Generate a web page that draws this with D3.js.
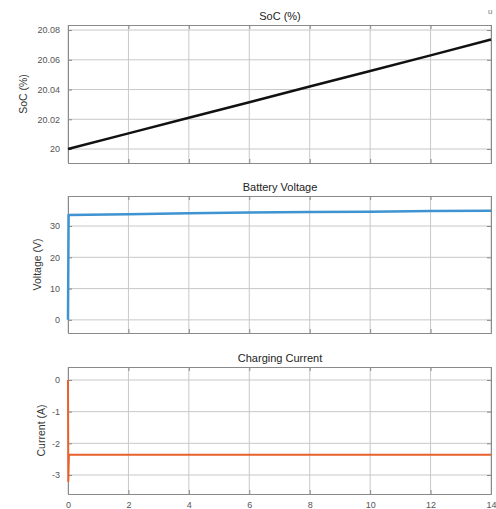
<!DOCTYPE html>
<html>
<head>
<meta charset="utf-8">
<script src="https://cdn.jsdelivr.net/npm/d3@7"></script>
<style>
  body { margin: 0; background: #fff; }
  svg { display: block; font-family: "Liberation Sans", Arial, sans-serif; }
</style>
</head>
<body>
<div id="vis"></div>
<script>
const FRAME_WIDTH = 496;
const FRAME_HEIGHT = 509;

// time axis (hours)
const xTicks = [0, 2, 4, 6, 8, 10, 12, 14];

// SoC (%)
const socTime = [0, 2, 4, 6, 8, 10, 12, 14];
const socValues = [20, 20.0105, 20.021, 20.0315, 20.042, 20.0525, 20.063, 20.0737];
const socTicks = [20, 20.02, 20.04, 20.06, 20.08];

// battery voltage (V)
const voltTime = [0, 0.02, 2, 4, 6, 8, 10, 12, 14];
const voltValues = [0, 33.5, 33.8, 34.1, 34.3, 34.5, 34.6, 34.8, 34.9];
const voltTicks = [0, 10, 20, 30];

// charging current (A)
const currTime = [0, 0.01, 0.03, 2, 4, 6, 8, 10, 12, 14];
const currValues = [0, -3.2, -2.36, -2.36, -2.36, -2.36, -2.36, -2.36, -2.36, -2.36];
const currTicks = [-3, -2, -1, 0];

const svg = d3.select("#vis")
  .append("svg")
    .attr("width", FRAME_WIDTH)
    .attr("height", FRAME_HEIGHT);

const X_SCALE = d3.scaleLinear().domain([0, 14]).range([68, 491]);

function drawPanel(p) {
  const y = d3.scaleLinear().domain(p.domain).range([p.bottom, p.top]);
  const g = svg.append("g");

  // grid
  g.selectAll(".vg").data(xTicks).enter().append("line")
    .attr("x1", d => X_SCALE(d)).attr("x2", d => X_SCALE(d))
    .attr("y1", p.top).attr("y2", p.bottom)
    .attr("stroke", "#c8c8c8").attr("stroke-width", 1);
  g.selectAll(".hg").data(p.ticks).enter().append("line")
    .attr("x1", 68).attr("x2", 491)
    .attr("y1", d => y(d)).attr("y2", d => y(d))
    .attr("stroke", "#c8c8c8").attr("stroke-width", 1);

  // axes with inward ticks on all four sides
  g.append("g").attr("transform", "translate(68,0)")
    .call(d3.axisLeft(y).tickValues(p.ticks).tickSize(-4).tickPadding(8)
      .tickFormat(d => d3.format("~g")(d).replace("−", "-")))
    .call(a => a.select(".domain").attr("stroke", "#8a8a8a"))
    .call(a => a.selectAll("line").attr("stroke", "#8a8a8a"))
    .call(a => a.selectAll("text").attr("fill", "#555").attr("font-size", 9));
  g.append("g").attr("transform", "translate(491,0)")
    .call(d3.axisRight(y).tickValues(p.ticks).tickSize(-4).tickFormat(""))
    .call(a => a.select(".domain").attr("stroke", "#8a8a8a"))
    .call(a => a.selectAll("line").attr("stroke", "#8a8a8a"));
  g.append("g").attr("transform", "translate(0," + p.top + ")")
    .call(d3.axisTop(X_SCALE).tickValues(xTicks).tickSize(-4).tickFormat(""))
    .call(a => a.select(".domain").attr("stroke", "#8a8a8a"))
    .call(a => a.selectAll("line").attr("stroke", "#8a8a8a"));
  g.append("g").attr("transform", "translate(0," + p.bottom + ")")
    .call(d3.axisBottom(X_SCALE).tickValues(xTicks).tickSize(-4).tickPadding(8)
      .tickFormat(p.xLabels ? d3.format("d") : ""))
    .call(a => a.select(".domain").attr("stroke", "#8a8a8a"))
    .call(a => a.selectAll("line").attr("stroke", "#8a8a8a"))
    .call(a => a.selectAll("text").attr("fill", "#555").attr("font-size", 9));

  // data line
  const line = d3.line().x(d => X_SCALE(d[0])).y(d => y(d[1]));
  g.append("path")
    .datum(d3.zip(p.time, p.values))
    .attr("d", line)
    .attr("fill", "none")
    .attr("stroke", p.color)
    .attr("stroke-width", p.width)
    .attr("stroke-linejoin", "round");

  // title and y label
  g.append("text")
    .attr("x", 280).attr("y", p.top - 5)
    .attr("text-anchor", "middle")
    .attr("font-size", 11).attr("fill", "#222")
    .text(p.title);
  g.append("text")
    .attr("transform", "translate(" + p.labelX + "," + ((p.top + p.bottom) / 2) + ") rotate(-90)")
    .attr("text-anchor", "middle")
    .attr("font-size", 10.5).attr("fill", "#333")
    .text(p.ylabel);
}

drawPanel({
  top: 25, bottom: 163, domain: [19.9906, 20.0834], ticks: socTicks,
  time: socTime, values: socValues, color: "#111", width: 2.5,
  title: "SoC (%)", ylabel: "SoC (%)", labelX: 27
});

drawPanel({
  top: 196, bottom: 333, domain: [-4.2, 39.6], ticks: voltTicks,
  time: voltTime, values: voltValues, color: "#3f93d0", width: 2.5,
  title: "Battery Voltage", ylabel: "Voltage (V)", labelX: 41
});

drawPanel({
  top: 367, bottom: 494, domain: [-3.6, 0.41], ticks: currTicks,
  time: currTime, values: currValues, color: "#e8602c", width: 2,
  title: "Charging Current", ylabel: "Current (A)", labelX: 45, xLabels: true
});

// small cut-off glyph in the top right corner of the original
svg.append("text")
  .attr("x", 488).attr("y", 14)
  .attr("font-size", 8).attr("fill", "#777")
  .text("u");
</script>
</body>
</html>
